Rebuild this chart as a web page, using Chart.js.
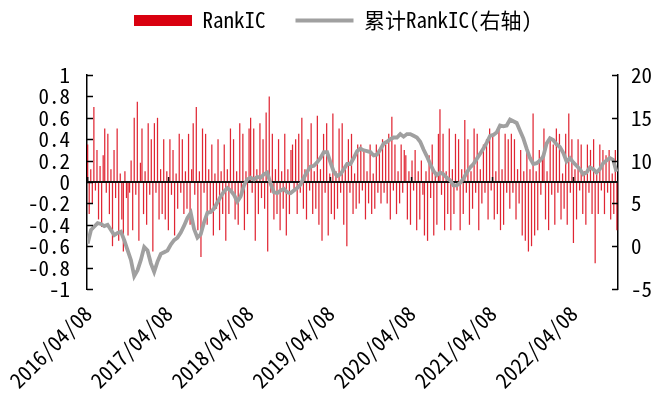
<!DOCTYPE html>
<html>
<head>
<meta charset="utf-8">
<script src="https://cdn.jsdelivr.net/npm/chart.js@4.4.0/dist/chart.umd.min.js"></script>
<style>
  html, body { margin: 0; padding: 0; background: #fff; }
</style>
</head>
<body>
<canvas id="icChart" width="666" height="399"></canvas>
<script>
// x axis date labels (yearly)
var tickLabels = ['2016/04/08', '2017/04/08', '2018/04/08', '2019/04/08', '2020/04/08', '2021/04/08', '2022/04/08'];

// RankIC, one value per week starting 2016/04/08
var icStepDays = 7;
var icValues = [
    0.35, -0.3, 0.12, -0.2, 0.7, -0.08,
    0.3, -0.35, 0.15, -0.42, 0.25,
    0.5, -0.1, 0.45, -0.3, 0.12, -0.6, 0.3, -0.15, 0.5, -0.55, 0.08,
    -0.35, -0.65, 0.1, -0.15,
    -0.5, -0.1, 0.2, -0.45,
    0.6, -0.12, 0.75, -0.55, 0.18,
    0.5, -0.3, 0.1, -0.4, 0.55, -0.12, 0.4, -0.65,
    0.55, -0.1, 0.6, -0.35, 0.12, -0.3, 0.4,
    -0.35, 0.1, -0.45, 0.4, -0.12, 0.3, -0.5, 0.08, -0.25, 0.45, -0.1,
    0.4, -0.3, 0.1, -0.25, 0.45, -0.4, 0.12,
    // 2017/07 -
    0.55, -0.12, 0.7, -0.45, 0.1, -0.7, 0.5, -0.1,
    0.45, -0.4, 0.12, -0.3, 0.35, -0.5, 0.08, -0.25, 0.4, -0.45, 0.1, -0.3, 0.35,
    -0.55, 0.12, -0.3, 0.5, -0.08, 0.4, -0.35, 0.1, -0.4,
    0.55, -0.12, 0.45, -0.45, 0.1, -0.3, 0.5,
    0.6, -0.1, 0.5, -0.55, 0.12, -0.3, 0.55, -0.15, 0.4, -0.25, 0.65, -0.65, 0.8, -0.1,
    0.45, -0.35, 0.12, -0.3, 0.4, -0.45, 0.1, -0.25, 0.45, -0.5, 0.12, -0.3, 0.3,
    0.35, -0.08, 0.4, -0.3,
    // 2018/11 -
    0.45, -0.1, 0.6, -0.25, 0.12, -0.35, 0.4, -0.08, 0.55, -0.3, 0.1, -0.25, 0.62,
    -0.4, 0.12, -0.55, 0.45, -0.1, 0.55, -0.5, 0.08, -0.3, 0.64, -0.35, 0.1, -0.25,
    0.5, -0.1, 0.55, -0.4, 0.12, -0.6, 0.4, -0.1, 0.45, -0.3, 0.08, -0.25, 0.35, -0.2,
    0.35, -0.08, 0.3, -0.35, 0.1, -0.2, 0.35, -0.3, 0.08, -0.25, 0.35, -0.1, 0.3, -0.2,
    0.4, -0.1, 0.35, -0.2, 0.45, -0.35, 0.61, -0.08, 0.35, -0.3, 0.1, -0.2, 0.35, -0.1, 0.3,
    // 2020/03 -
    0.25, -0.35, 0.1, -0.4, 0.2, -0.08, 0.3, -0.45, 0.1, -0.35, 0.2, -0.12,
    -0.5, 0.1, -0.55, 0.25, -0.15, 0.35, -0.5, 0.08, -0.4,
    0.45, 0.68, -0.12, 0.45, -0.45, 0.1, -0.3, 0.5, -0.45, 0.12, -0.3, 0.45, -0.08, 0.4,
    -0.45, 0.12, -0.3, 0.58, -0.1, 0.4, -0.4, 0.1, -0.25,
    0.5, -0.1, 0.45, -0.45, 0.12, -0.2, 0.35, -0.1, 0.4, -0.35,
    0.5, -0.08, 0.45, -0.35, 0.1, -0.3, 0.5, -0.45, 0.12, -0.4, 0.45, -0.1, 0.4, -0.25,
    // 2021/07 -
    0.45, -0.1, 0.4, -0.35, 0.12, -0.2, 0.3,
    -0.5, 0.1, -0.55, 0.3, -0.65, 0.12, -0.6, 0.64, -0.5, 0.1, -0.45, 0.3, -0.12, 0.25,
    0.5, -0.35, 0.1, -0.45, 0.4, -0.12, 0.35, -0.4, 0.5, -0.1, 0.45, -0.35, 0.08, -0.25,
    0.45, -0.4, 0.64, -0.1, 0.4, -0.57, 0.12, -0.35, 0.4, -0.08, 0.35, -0.3, 0.1,
    -0.4, 0.35, -0.1, 0.3, -0.3, 0.4, -0.76, 0.1, -0.3, 0.35, -0.08, 0.3, -0.3,
    0.25, -0.1, 0.3, -0.35, 0.08, -0.3, 0.3, -0.45
];

// cumulative RankIC (right axis), one reading every 15 days
var cumStepDays = 15;
var cumValues = [
    0.3, 1.9, 2.3, 2.7, 2.6, 2.35, 2.5, 1.9, 1.3, 1.55,
    1.7, 0.7, -0.45, -1.6, -3.5, -2.8, -1.6, -0.1, -0.5, -2.0,
    -3.0, -1.8, -0.9, -0.7, -0.5, 0.2, 0.7, 1.0, 1.6, 2.4,
    3.3, 3.9, 2.0, 1.0, 1.4, 2.8, 3.9, 4.0, 4.4, 5.1,
    5.8, 6.4, 6.8, 6.5, 6.0, 5.2, 5.8, 7.1, 7.8, 8.0,
    7.8, 8.1, 8.0, 8.4, 8.6, 7.3, 6.3, 6.2, 6.5, 6.7,
    6.3, 6.2, 6.5, 6.8, 7.2, 8.0, 8.7, 9.3, 9.4, 9.8,
    10.3, 11.0, 11.0, 9.8, 8.7, 8.2, 8.4, 9.0, 9.6, 9.6,
    10.3, 11.1, 11.4, 11.2, 11.1, 11.0, 10.6, 10.7, 11.3, 12.0,
    12.2, 12.5, 12.7, 12.7, 13.1, 12.8, 13.1, 13.1, 12.9, 12.7,
    12.2, 11.3, 10.5, 9.6, 8.8, 8.3, 8.6, 8.4, 8.0, 7.7,
    7.1, 7.1, 7.4, 7.9, 8.6, 9.2, 9.6, 10.2, 10.8, 11.4,
    12.1, 12.9, 13.0, 13.3, 14.1, 14.0, 14.1, 14.8, 14.6, 14.4,
    13.5, 12.6, 11.4, 10.3, 9.6, 9.7, 10.0, 10.5, 12.0, 12.6,
    12.4, 11.9, 11.6, 10.9, 9.9, 10.3, 9.8, 9.4, 9.0, 8.4,
    8.6, 9.2, 9.0, 8.6, 9.0, 9.7, 10.0, 10.3, 10.1, 8.7
];

function dayOf(label) {
    var p = label.split('/');
    return (Date.UTC(+p[0], +p[1] - 1, +p[2]) - Date.UTC(2016, 3, 8)) / 86400000;
}
var tickDays = tickLabels.map(dayOf);

var FONT = "'Noto Sans Mono CJK SC', 'Noto Sans CJK SC', 'DejaVu Sans Mono', monospace";
Chart.defaults.font.family = FONT;
Chart.defaults.font.size = 21;
Chart.defaults.color = '#000';

// zero line with small date marks, inward ticks on both value axes
var axisMarks = {
    id: 'axisMarks',
    afterDatasetDraw: function (chart, args) {
        if (args.index !== 0) return;
        var ctx = chart.ctx, area = chart.chartArea, xs = chart.scales.x;
        var y0 = chart.scales.y.getPixelForValue(0);
        ctx.save();
        ctx.strokeStyle = '#111';
        ctx.lineWidth = 2;
        ctx.beginPath();
        ctx.moveTo(area.left, y0);
        ctx.lineTo(area.right, y0);
        ctx.stroke();
        ctx.lineWidth = 1.5;
        xs.ticks.forEach(function (t) {
            var px = xs.getPixelForValue(t.value);
            ctx.beginPath();
            ctx.moveTo(px, y0);
            ctx.lineTo(px, y0 - 5);
            ctx.stroke();
        });
        ctx.restore();
    },
    afterDraw: function (chart) {
        var ctx = chart.ctx, area = chart.chartArea;
        ctx.save();
        ctx.strokeStyle = '#000';
        ctx.lineWidth = 1.5;
        [['y', area.left, 6], ['y1', area.right, -6]].forEach(function (s) {
            var sc = chart.scales[s[0]];
            sc.ticks.forEach(function (t) {
                var py = Math.round(sc.getPixelForValue(t.value)) + 0.5;
                ctx.beginPath();
                ctx.moveTo(s[1], py);
                ctx.lineTo(s[1] + s[2], py);
                ctx.stroke();
            });
        });
        ctx.restore();
    }
};

// keep the plot top where the legend band ends
var legendGap = {
    id: 'legendGap',
    beforeInit: function (chart) {
        var fit = chart.legend.fit;
        chart.legend.fit = function () {
            fit.call(this);
            this.height = 95;
        };
    }
};

var icChart = new Chart(document.getElementById('icChart'), {
    type: 'bar',
    data: {
        datasets: [{
            type: 'bar',
            label: 'RankIC',
            data: icValues.map(function (v, i) { return { x: i * icStepDays, y: v }; }),
            backgroundColor: 'rgba(218, 0, 16, 0.85)',
            borderWidth: 0,
            barPercentage: 0.8,
            categoryPercentage: 1,
            pointStyle: 'rect',
            yAxisID: 'y',
            order: 2
        }, {
            type: 'line',
            label: '累计RankIC(右轴)',
            data: cumValues.map(function (v, i) { return { x: i * cumStepDays, y: v }; }),
            borderColor: '#a0a0a0',
            borderWidth: 3.8,
            pointRadius: 0,
            pointStyle: 'line',
            tension: 0,
            yAxisID: 'y1',
            order: 1
        }]
    },
    options: {
        responsive: false,
        animation: false,
        devicePixelRatio: 1,
        events: [],
        layout: { padding: { top: -20, left: 0, right: 0, bottom: 0 } },
        plugins: {
            tooltip: { enabled: false },
            legend: {
                position: 'top',
                labels: {
                    usePointStyle: true,
                    pointStyleWidth: 58,
                    boxHeight: 11,
                    padding: 30,
                    sort: function (a, b) { return a.datasetIndex - b.datasetIndex; },
                    generateLabels: function (chart) {
                        var items = Chart.defaults.plugins.legend.labels.generateLabels(chart);
                        items.forEach(function (it) {
                            if (it.datasetIndex === 0) {
                                it.fillStyle = '#d9000f';
                                it.strokeStyle = '#d9000f';
                            }
                        });
                        return items;
                    }
                }
            }
        },
        scales: {
            x: {
                type: 'linear',
                offset: false,
                min: -3,
                max: 2392,
                grid: { display: false, drawTicks: false, offset: false },
                border: { display: false },
                ticks: {
                    autoSkip: false,
                    minRotation: 45,
                    maxRotation: 45,
                    padding: 12,
                    callback: function (v, i) { return tickLabels[i]; }
                },
                afterBuildTicks: function (s) {
                    s.ticks = tickDays.map(function (d) { return { value: d }; });
                },
                afterFit: function (s) { s.height = 110; }
            },
            y: {
                position: 'left',
                min: -1,
                max: 1,
                grid: { display: false, drawTicks: false },
                border: { display: true, color: '#000', width: 1.5 },
                ticks: {
                    stepSize: 0.2,
                    autoSkip: false,
                    padding: 17,
                    callback: function (v) { return String(Math.round(v * 10) / 10); }
                },
                afterFit: function (s) { s.width = 87; }
            },
            y1: {
                position: 'right',
                min: -5,
                max: 20,
                grid: { display: false, drawTicks: false },
                border: { display: true, color: '#000', width: 1.5 },
                ticks: { stepSize: 5, autoSkip: false, padding: 13 },
                afterFit: function (s) { s.width = 48; }
            }
        }
    },
    plugins: [axisMarks, legendGap]
});
</script>
</body>
</html>
